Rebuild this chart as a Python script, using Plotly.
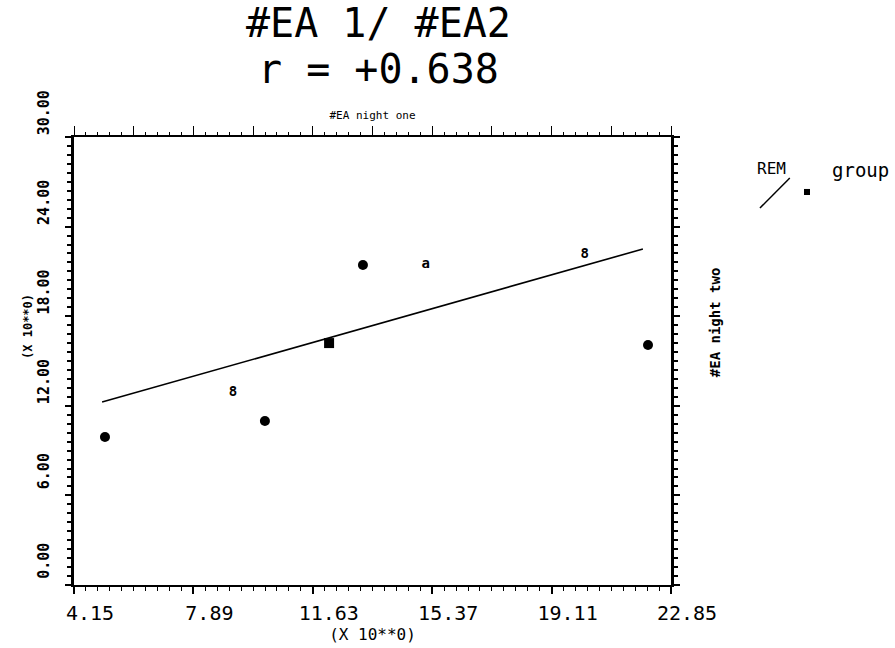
import plotly.graph_objects as go

# ---- data ----
x_ticks = [4.15, 7.89, 11.63, 15.37, 19.11, 22.85]
x_tick_labels = ["4.15", "7.89", "11.63", "15.37", "19.11", "22.85"]
y_ticks = [0, 6, 12, 18, 24, 30]
y_tick_labels = ["0.00", "6.00", "12.00", "18.00", "24.00", "30.00"]

dot_x = [5.12, 10.13, 13.20, 22.13]
dot_y = [9.91, 10.98, 21.43, 16.07]
square_x = [12.14]
square_y = [16.20]
glyph_x = [9.13, 15.17, 20.15]
glyph_y = [12.92, 21.43, 22.10]
glyph_text = ["8", "a", "8"]

fit_x = [5.03, 21.97]
fit_y = [12.25, 22.50]

title_line1 = "#EA 1/ #EA2"
r_value = "+0.638"

MONO = "DejaVu Sans Mono"
BLACK = "black"

fig = go.Figure()

fig.add_trace(go.Scatter(x=fit_x, y=fit_y, mode="lines",
                         line=dict(color=BLACK, width=1.6), hoverinfo="skip", showlegend=False))
fig.add_trace(go.Scatter(x=dot_x, y=dot_y, mode="markers",
                         marker=dict(symbol="circle", size=10, color=BLACK), showlegend=False))
fig.add_trace(go.Scatter(x=square_x, y=square_y, mode="markers",
                         marker=dict(symbol="square", size=10, color=BLACK), showlegend=False))
fig.add_trace(go.Scatter(x=glyph_x, y=glyph_y, mode="text", text=glyph_text,
                         textfont=dict(family=MONO, size=14, color=BLACK, weight="bold"),
                         textposition="middle center", showlegend=False))
# invisible trace bound to the top/right axes so they are drawn
fig.add_trace(go.Scatter(x=fit_x, y=fit_y, xaxis="x2", yaxis="y2", mode="lines",
                         line=dict(width=0), opacity=0, hoverinfo="skip", showlegend=False))

xr = [x_ticks[0], x_ticks[-1]]
yr = [y_ticks[0], y_ticks[-1]]

fig.update_layout(
    width=895, height=648,
    margin=dict(l=74, r=224, t=137, b=63),
    paper_bgcolor="white", plot_bgcolor="white",
    showlegend=False,
    xaxis=dict(range=xr, tickvals=x_ticks, ticktext=x_tick_labels,
               showgrid=False, zeroline=False, showline=True, linecolor=BLACK, linewidth=2,
               ticks="outside", ticklen=7, tickwidth=1.5, tickcolor=BLACK,
               ticklabelshift=16, ticklabelstandoff=2,
               tickfont=dict(family=MONO, size=20, color=BLACK),
               minor=dict(dtick=0.374, tick0=4.15, ticks="outside", ticklen=4, tickcolor=BLACK, tickwidth=1),
               title=dict(text="(X 10**0)", font=dict(family=MONO, size=16, color=BLACK), standoff=0)),
    yaxis=dict(range=yr, tickvals=y_ticks, ticktext=y_tick_labels,
               showgrid=False, zeroline=False, showline=True, linecolor=BLACK, linewidth=2.5,
               ticks="outside", ticklen=6, tickwidth=1.5, tickcolor=BLACK,
               tickangle=-90, ticklabelshift=-22, ticklabelstandoff=10,
               tickfont=dict(family=MONO, size=15, color=BLACK, weight="bold"),
               minor=dict(dtick=0.6, tick0=0, ticks="outside", ticklen=4, tickcolor=BLACK, tickwidth=1.5)),
    xaxis2=dict(range=xr, overlaying="x", side="top", showgrid=False, zeroline=False,
                showline=True, linecolor=BLACK, linewidth=1.5,
                tick0=4.15, dtick=1.87, ticks="outside", ticklen=9, tickwidth=1.2, tickcolor=BLACK,
                showticklabels=False,
                minor=dict(dtick=0.374, tick0=4.15, ticks="outside", ticklen=3, tickcolor=BLACK, tickwidth=1),
                title=dict(text="#EA night one", font=dict(family=MONO, size=11, color=BLACK), standoff=4)),
    yaxis2=dict(range=yr, overlaying="y", side="right", showgrid=False, zeroline=False,
                showline=True, linecolor=BLACK, linewidth=2.5,
                tick0=0, dtick=6, ticks="outside", ticklen=6, tickwidth=1.5, tickcolor=BLACK,
                showticklabels=False,
                minor=dict(dtick=0.6, tick0=0, ticks="outside", ticklen=4, tickcolor=BLACK, tickwidth=1.5)),
)

annotations = [
    dict(text=title_line1, x=0.51, y=1.255, xref="paper", yref="paper", showarrow=False,
         xanchor="center", yanchor="middle", font=dict(family=MONO, size=40, color=BLACK)),
    dict(text="r = " + r_value, x=0.51, y=1.152, xref="paper", yref="paper", showarrow=False,
         xanchor="center", yanchor="middle", font=dict(family=MONO, size=40, color=BLACK)),
    dict(text="(X 10**0)", x=-0.077, y=0.576, xref="paper", yref="paper", showarrow=False,
         textangle=-90, xanchor="center", yanchor="middle",
         font=dict(family=MONO, size=12, color=BLACK, weight="bold")),
    dict(text="#EA night two", x=1.074, y=0.587, xref="paper", yref="paper", showarrow=False,
         textangle=-90, xanchor="center", yanchor="middle",
         font=dict(family=MONO, size=14, color=BLACK, weight="bold")),
    dict(text="REM", x=1.169, y=0.9286, xref="paper", yref="paper", showarrow=False,
         xanchor="center", yanchor="middle", font=dict(family=MONO, size=16, color=BLACK)),
    dict(text="group", x=1.3166, y=0.926, xref="paper", yref="paper", showarrow=False,
         xanchor="center", yanchor="middle", font=dict(family=MONO, size=19, color=BLACK)),
]
fig.update_layout(annotations=annotations)

# legend glyph: slash + small square
fig.add_shape(type="line", xref="paper", yref="paper", x0=1.149, y0=0.8415, x1=1.199, y1=0.9085,
              line=dict(color=BLACK, width=1.5))
fig.add_shape(type="rect", xref="paper", yref="paper", x0=1.2228, y0=0.8705, x1=1.2328, y1=0.884,
              fillcolor=BLACK, line=dict(color=BLACK, width=0))

fig.write_html("out.html")
